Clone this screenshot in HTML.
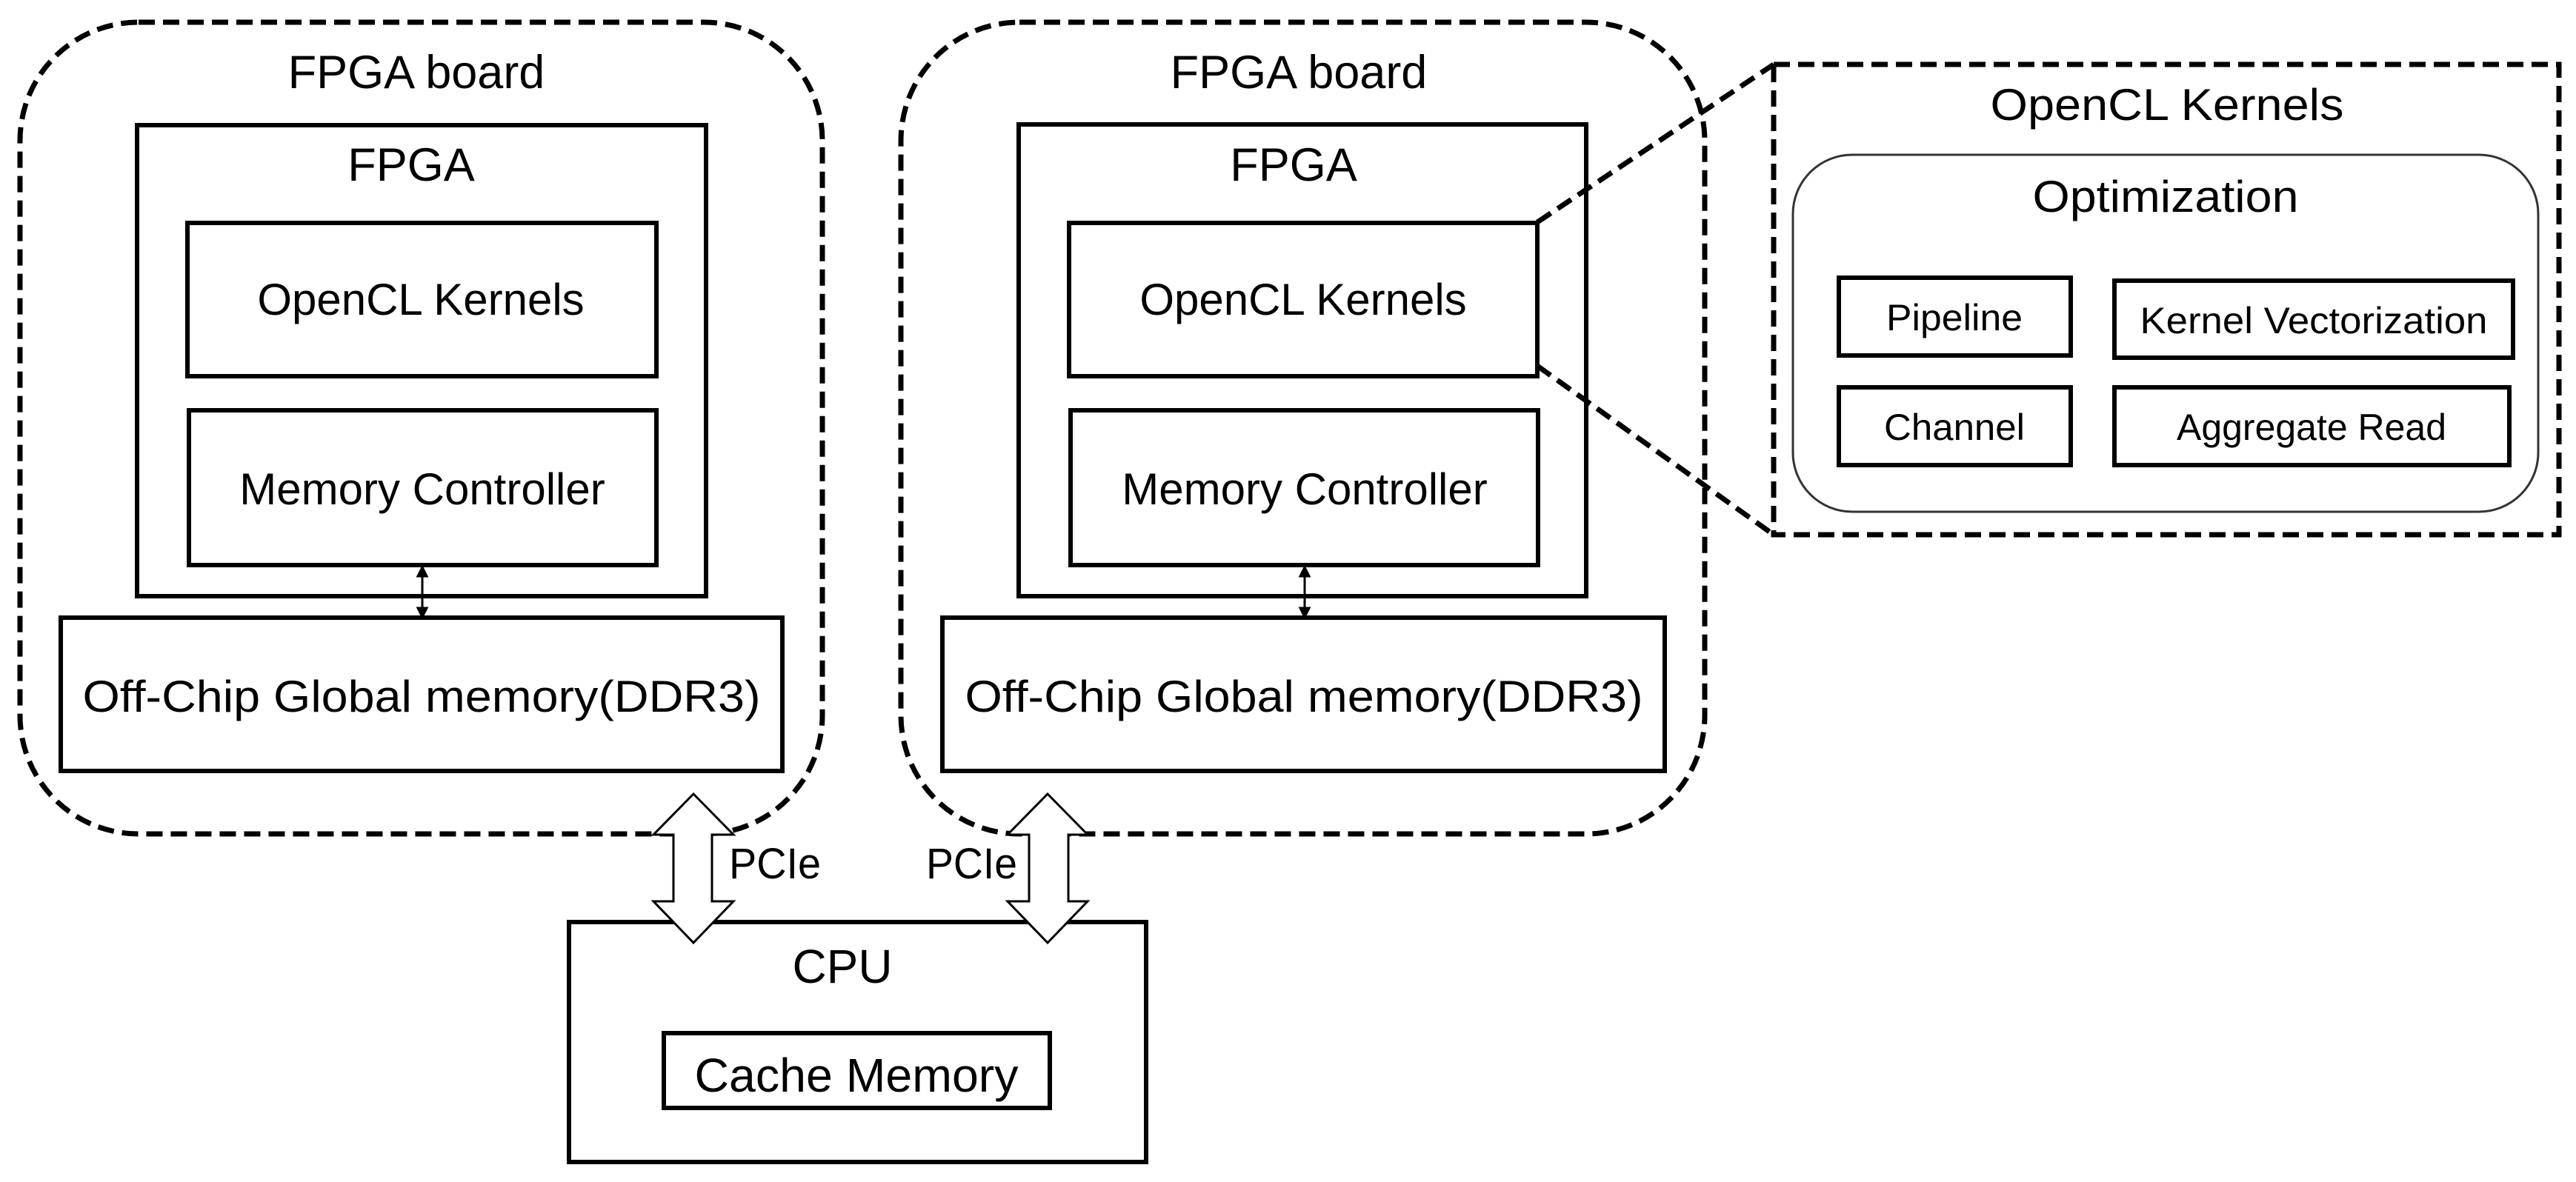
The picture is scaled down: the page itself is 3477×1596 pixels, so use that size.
<!DOCTYPE html>
<html><head><meta charset="utf-8"><style>
html,body{margin:0;padding:0;background:#fff;}
svg{display:block;}
text{font-family:"Liberation Sans",Arial,sans-serif;fill:#000;}
.n{font-family:"Liberation Sans Narrow","Liberation Sans",sans-serif;}
</style></head><body>
<svg width="3477" height="1596" viewBox="0 0 3477 1596" xmlns="http://www.w3.org/2000/svg">
<g fill="none" stroke="#000" stroke-width="7" stroke-dasharray="22,11">
  <rect x="27" y="30" width="1083" height="1096" rx="160" ry="160"/>
  <rect x="1216" y="30" width="1085" height="1096" rx="160" ry="160"/>
  <rect x="2394" y="87" width="1060" height="635"/>
  <line x1="2075" y1="300" x2="2394" y2="87"/>
  <line x1="2075" y1="494" x2="2394" y2="722"/>
</g>
<g fill="none" stroke="#000" stroke-width="6">
  <rect x="185" y="169" width="768" height="636"/>
  <rect x="253" y="301" width="633" height="207"/>
  <rect x="255" y="554" width="631" height="209"/>
  <rect x="82" y="834" width="974" height="207"/>
  <rect x="1375" y="168" width="766" height="637"/>
  <rect x="1443" y="301" width="632" height="207"/>
  <rect x="1445" y="554" width="631" height="209"/>
  <rect x="1272" y="834" width="975" height="207"/>
  <rect x="768" y="1245" width="779" height="324"/>
  <rect x="896" y="1395" width="521" height="101"/>
  <rect x="2482" y="375" width="313" height="105"/>
  <rect x="2854" y="379" width="538" height="104"/>
  <rect x="2482" y="523" width="313" height="105"/>
  <rect x="2854" y="523" width="533" height="105"/>
</g>
<rect x="2420" y="209" width="1006" height="482" rx="80" ry="80" fill="none" stroke="#333" stroke-width="3"/>
<!-- small double arrows -->
<g stroke="#000" stroke-width="3" fill="#000">
  <line x1="570" y1="775" x2="570" y2="824"/>
  <polygon points="570,766 564,778 576,778"/>
  <polygon points="570,833 564,821 576,821"/>
  <line x1="1761" y1="775" x2="1761" y2="824"/>
  <polygon points="1761,766 1755,778 1767,778"/>
  <polygon points="1761,833 1755,821 1767,821"/>
</g>
<!-- PCIe block arrows -->
<g fill="#fff" stroke="#000" stroke-width="3">
  <polygon points="936,1072 990,1127 961,1127 961,1217 990,1217 936,1273 882,1217 909,1217 909,1127 882,1127"/>
  <polygon points="1414,1072 1468,1127 1442,1127 1442,1217 1468,1217 1414,1273 1360,1217 1389,1217 1389,1127 1360,1127"/>
</g>
<g text-anchor="middle">
  <text x="562" y="119" font-size="63">FPGA board</text>
  <text x="555" y="244" font-size="63">FPGA</text>
  <text x="568" y="425" font-size="60">OpenCL Kernels</text>
  <text x="570" y="681" font-size="60">Memory Controller</text>
  <text x="569" y="961" font-size="60" textLength="915" lengthAdjust="spacingAndGlyphs">Off-Chip Global memory(DDR3)</text>
  <text x="1753" y="119" font-size="63">FPGA board</text>
  <text x="1746" y="244" font-size="63">FPGA</text>
  <text x="1759" y="425" font-size="60">OpenCL Kernels</text>
  <text x="1761" y="681" font-size="60">Memory Controller</text>
  <text x="1760" y="961" font-size="60" textLength="915" lengthAdjust="spacingAndGlyphs">Off-Chip Global memory(DDR3)</text>
  <text x="1137" y="1327" font-size="64">CPU</text>
  <text x="1156" y="1474" font-size="64" textLength="437" lengthAdjust="spacingAndGlyphs">Cache Memory</text>
  <text class="n" x="2925" y="162" font-size="60" textLength="477" lengthAdjust="spacingAndGlyphs">OpenCL Kernels</text>
  <text class="n" x="2923" y="286" font-size="60" textLength="359" lengthAdjust="spacingAndGlyphs">Optimization</text>
  <text class="n" x="2638" y="446" font-size="50" textLength="184" lengthAdjust="spacingAndGlyphs">Pipeline</text>
  <text class="n" x="3123" y="450" font-size="50" textLength="469" lengthAdjust="spacingAndGlyphs">Kernel Vectorization</text>
  <text class="n" x="2638" y="594" font-size="50" textLength="190" lengthAdjust="spacingAndGlyphs">Channel</text>
  <text class="n" x="3120" y="594" font-size="50" textLength="364" lengthAdjust="spacingAndGlyphs">Aggregate Read</text>
</g>
<text x="984" y="1186" font-size="58" textLength="124" lengthAdjust="spacingAndGlyphs">PCIe</text>
<text x="1250" y="1186" font-size="58" textLength="123" lengthAdjust="spacingAndGlyphs">PCIe</text>
</svg>
</body></html>
